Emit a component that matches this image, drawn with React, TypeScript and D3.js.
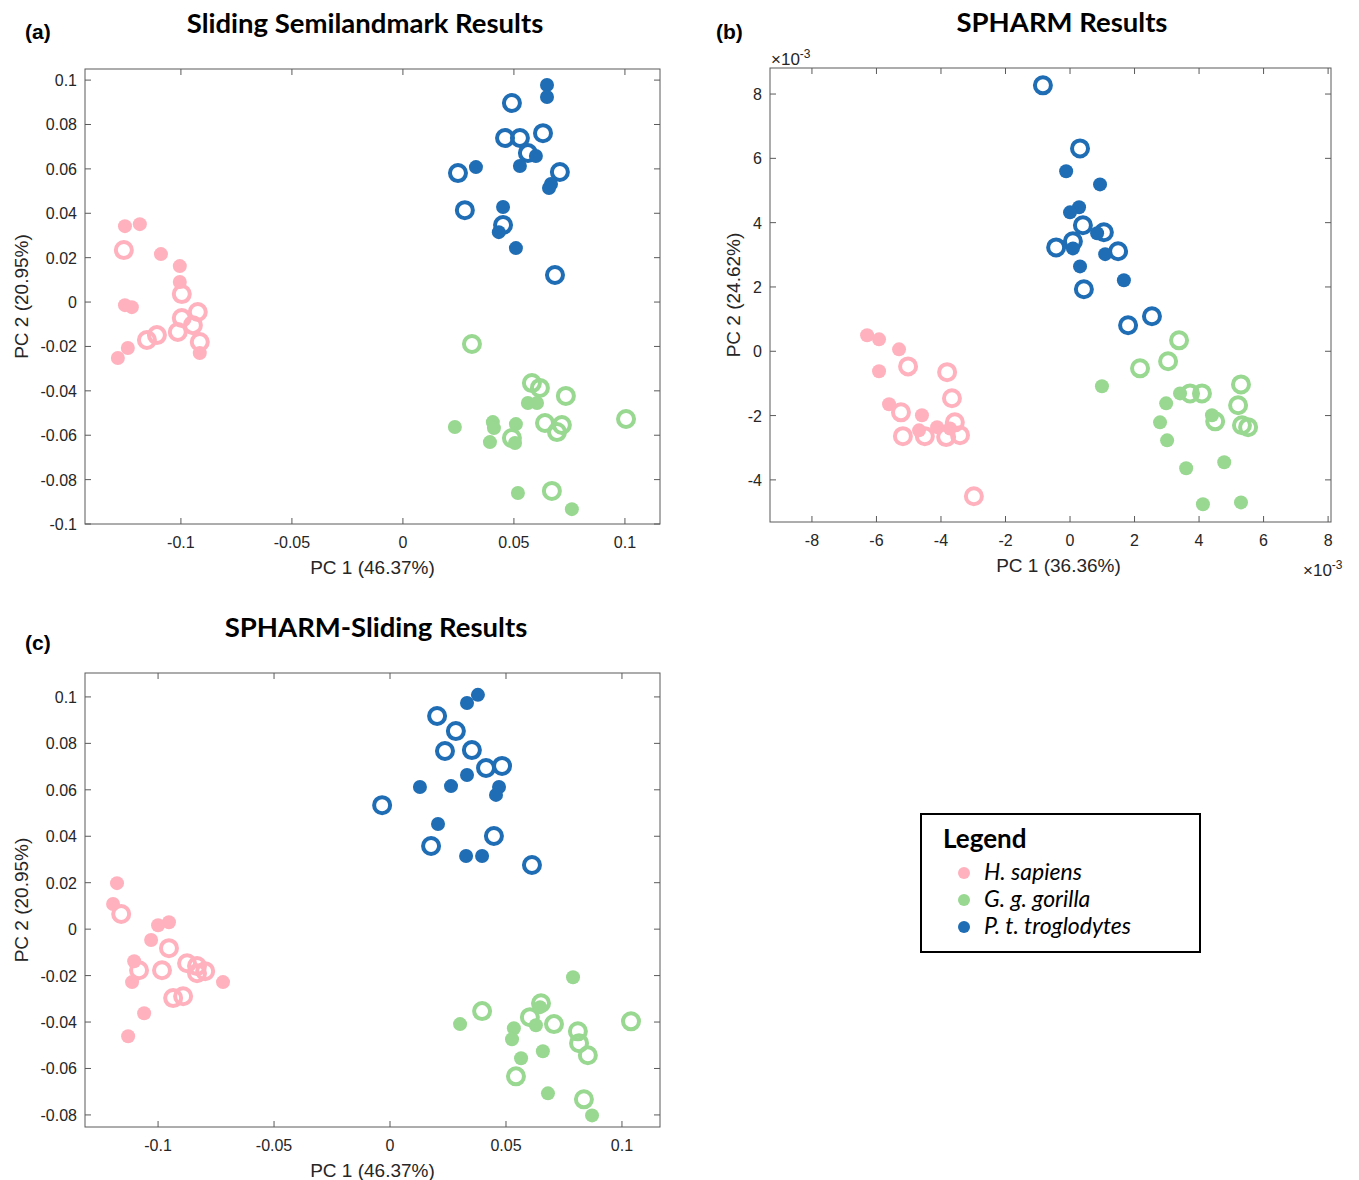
import React from "react";
import * as d3 from "d3";

// colours of the three species
const PINK = "#ffb2be";
const GREEN = "#98d891";
const BLUE = "#1f6db4";

const species = ["H. sapiens", "G. g. gorilla", "P. t. troglodytes"];
const speciesColors = [PINK, GREEN, BLUE];

// (a) Sliding Semilandmark: [PC1, PC2]
const slidingSapiensFilled = [[-0.1252, 0.0342], [-0.1185, 0.0351], [-0.109, 0.0216], [-0.1005, 0.0162], [-0.1005, 0.009], [-0.1252, -0.0014], [-0.1221, -0.0023], [-0.0915, -0.023], [-0.1239, -0.0207], [-0.1284, -0.0252]];
const slidingSapiensOpen = [[-0.1257, 0.0234], [-0.0996, 0.0036], [-0.0924, -0.0045], [-0.0996, -0.0072], [-0.0946, -0.0104], [-0.1014, -0.0135], [-0.1108, -0.0149], [-0.1153, -0.0171], [-0.0915, -0.018]];
const slidingGorillaFilled = [[0.0563, -0.0455], [0.0604, -0.0455], [0.0234, -0.0563], [0.0405, -0.0541], [0.041, -0.0568], [0.0509, -0.055], [0.0505, -0.0635], [0.0392, -0.0631], [0.0518, -0.086], [0.0761, -0.0933]];
const slidingGorillaOpen = [[0.0311, -0.0189], [0.0581, -0.0365], [0.0617, -0.0387], [0.0734, -0.0423], [0.064, -0.0545], [0.0716, -0.0554], [0.0694, -0.0586], [0.0491, -0.0613], [0.1005, -0.0527], [0.0671, -0.0851]];
const slidingTroglodytesFilled = [[0.0649, 0.0978], [0.0649, 0.0924], [0.0599, 0.0658], [0.0527, 0.0613], [0.0329, 0.0608], [0.0667, 0.0532], [0.0658, 0.0514], [0.0451, 0.0428], [0.0432, 0.0315], [0.0509, 0.0243]];
const slidingTroglodytesOpen = [[0.0491, 0.0897], [0.046, 0.0739], [0.0527, 0.0739], [0.0631, 0.0761], [0.0563, 0.0671], [0.0248, 0.0581], [0.0707, 0.0586], [0.0279, 0.0414], [0.0451, 0.0347], [0.0685, 0.0122]];

// (b) SPHARM, units of 1e-3
const spharmSapiensFilled = [[-6.29, 0.5], [-5.92, 0.37], [-5.3, 0.06], [-5.92, -0.62], [-5.61, -1.65], [-4.59, -1.99], [-4.68, -2.46], [-4.12, -2.36], [-3.72, -2.4]];
const spharmSapiensOpen = [[-5.02, -0.47], [-3.81, -0.65], [-3.66, -1.46], [-5.24, -1.9], [-5.18, -2.64], [-4.5, -2.64], [-3.84, -2.67], [-3.57, -2.21], [-3.41, -2.61], [-2.98, -4.51]];
const spharmGorillaFilled = [[0.99, -1.09], [3.41, -1.31], [2.98, -1.62], [4.4, -1.99], [2.79, -2.21], [3.01, -2.77], [4.78, -3.45], [3.6, -3.64], [4.12, -4.76], [5.3, -4.7]];
const spharmGorillaOpen = [[3.38, 0.34], [3.04, -0.31], [2.17, -0.53], [3.72, -1.31], [4.09, -1.31], [5.3, -1.03], [5.21, -1.68], [4.5, -2.18], [5.33, -2.3], [5.52, -2.36]];
const spharmTroglodytesFilled = [[-0.12, 5.6], [0.93, 5.19], [0.28, 4.48], [0.0, 4.32], [0.84, 3.67], [0.09, 3.2], [1.09, 3.02], [0.31, 2.64], [1.67, 2.21]];
const spharmTroglodytesOpen = [[-0.84, 8.27], [0.31, 6.31], [0.4, 3.92], [1.05, 3.7], [0.09, 3.42], [-0.43, 3.23], [1.49, 3.11], [0.43, 1.93], [1.8, 0.81], [2.54, 1.09]];

// (c) SPHARM-Sliding
const mixedSapiensFilled = [[-0.1177, 0.0198], [-0.1194, 0.0108], [-0.1, 0.0017], [-0.0953, 0.003], [-0.103, -0.0047], [-0.1103, -0.0138], [-0.1112, -0.0228], [-0.072, -0.0228], [-0.106, -0.0362], [-0.1129, -0.0461]];
const mixedSapiensOpen = [[-0.1159, 0.0065], [-0.0953, -0.0082], [-0.1082, -0.0177], [-0.0983, -0.0177], [-0.0875, -0.0147], [-0.0832, -0.0159], [-0.0832, -0.019], [-0.0797, -0.0181], [-0.0935, -0.0297], [-0.0892, -0.0289]];
const mixedGorillaFilled = [[0.0789, -0.0207], [0.0302, -0.0409], [0.0647, -0.0336], [0.0629, -0.0414], [0.0534, -0.0427], [0.0526, -0.0474], [0.0659, -0.0526], [0.0565, -0.0556], [0.0681, -0.0707], [0.0871, -0.0802]];
const mixedGorillaOpen = [[0.0397, -0.0353], [0.0651, -0.0319], [0.0603, -0.0379], [0.0707, -0.0409], [0.081, -0.044], [0.0815, -0.0491], [0.0853, -0.0543], [0.1039, -0.0397], [0.0543, -0.0634], [0.0836, -0.0733]];
const mixedTroglodytesFilled = [[0.0379, 0.1009], [0.0332, 0.0974], [0.0332, 0.0664], [0.0129, 0.0612], [0.0263, 0.0616], [0.047, 0.0612], [0.0457, 0.0578], [0.0207, 0.0453], [0.0328, 0.0315], [0.0397, 0.0315]];
const mixedTroglodytesOpen = [[0.0203, 0.0918], [0.0284, 0.0853], [0.0237, 0.0767], [0.0353, 0.0771], [0.0414, 0.0694], [0.0483, 0.0703], [-0.0034, 0.0534], [0.0448, 0.0401], [0.0177, 0.0358], [0.0612, 0.0276]];

// tick values
const pcTicksX = [-0.1, -0.05, 0, 0.05, 0.1];
const slidingTicksY = [-0.1, -0.08, -0.06, -0.04, -0.02, 0, 0.02, 0.04, 0.06, 0.08, 0.1];
const spharmTicksX = [-8, -6, -4, -2, 0, 2, 4, 6, 8];
const spharmTicksY = [-4, -2, 0, 2, 4, 6, 8];
const mixedTicksY = [-0.08, -0.06, -0.04, -0.02, 0, 0.02, 0.04, 0.06, 0.08, 0.1];

const AXIS = "#5a5a5a";
const TEXT = "#262626";
const SANS = "'Liberation Sans', Arial, sans-serif";
const TITLE_FONT = "Lato, 'Open Sans', sans-serif";

const fmt = (v: number) => String(+v.toFixed(4));

function Panel({ box, xDomain, yDomain, xTicks, yTicks, groups, title, titleX, tag, xLabel, yLabel, xLabelShift, yLabelGap, exponent }: any) {
  const x = d3.scaleLinear().domain(xDomain).range([box.left, box.right]);
  const y = d3.scaleLinear().domain(yDomain).range([box.bottom, box.top]);
  const tl = 6;
  const midY = (box.top + box.bottom) / 2;
  const midX = (box.left + box.right) / 2;
  return (
    <g>
      <text x={tag.x} y={tag.y} fontFamily={SANS} fontWeight="bold" fontSize={21} fill="#000">{tag.text}</text>
      <text x={titleX} y={box.top - 36} textAnchor="middle" fontFamily={TITLE_FONT} fontWeight="bold" fontSize={27.5} fill="#000">{title}</text>

      {groups.map((g: any, i: number) => (
        <g key={i}>
          {g.open.map((d: number[], j: number) => (
            <circle key={"o" + j} cx={x(d[0])} cy={y(d[1])} r={8} fill="none" stroke={g.color} strokeWidth={4} />
          ))}
          {g.filled.map((d: number[], j: number) => (
            <circle key={"f" + j} cx={x(d[0])} cy={y(d[1])} r={7} fill={g.color} />
          ))}
        </g>
      ))}

      <rect x={box.left} y={box.top} width={box.right - box.left} height={box.bottom - box.top} fill="none" stroke={AXIS} strokeWidth={1} />
      {xTicks.map((t: number) => (
        <g key={"x" + t}>
          <line x1={x(t)} x2={x(t)} y1={box.bottom} y2={box.bottom - tl} stroke={AXIS} />
          <line x1={x(t)} x2={x(t)} y1={box.top} y2={box.top + tl} stroke={AXIS} />
          <text x={x(t)} y={box.bottom + 24} textAnchor="middle" fontFamily={SANS} fontSize={16} fill={TEXT}>{fmt(t)}</text>
        </g>
      ))}
      {yTicks.map((t: number) => (
        <g key={"y" + t}>
          <line x1={box.left} x2={box.left + tl} y1={y(t)} y2={y(t)} stroke={AXIS} />
          <line x1={box.right} x2={box.right - tl} y1={y(t)} y2={y(t)} stroke={AXIS} />
          <text x={box.left - 8} y={y(t) + 6} textAnchor="end" fontFamily={SANS} fontSize={16} fill={TEXT}>{fmt(t)}</text>
        </g>
      ))}
      <text x={midX + xLabelShift} y={box.bottom + 50} textAnchor="middle" fontFamily={SANS} fontSize={19} fill={TEXT}>{xLabel}</text>
      <text transform={`translate(${box.left - yLabelGap},${midY}) rotate(-90)`} textAnchor="middle" fontFamily={SANS} fontSize={19} fill={TEXT}>{yLabel}</text>
      {exponent && (
        <g fontFamily={SANS} fill={TEXT}>
          <text x={box.left + 1} y={box.top - 3} fontSize={17}>×10<tspan fontSize={12} dy={-7}>-3</tspan></text>
          <text x={box.right - 28} y={box.bottom + 54} fontSize={17}>×10<tspan fontSize={12} dy={-7}>-3</tspan></text>
        </g>
      )}
    </g>
  );
}

export default function App() {
  return (
    <svg width={1359} height={1180} style={{ position: "absolute", left: 0, top: 0, background: "#fff" }}>
      <Panel
        box={{ left: 85, right: 660, top: 69, bottom: 524 }}
        xDomain={[-0.1432, 0.1158]}
        yDomain={[-0.1, 0.105]}
        xTicks={pcTicksX}
        yTicks={slidingTicksY}
        groups={[
          { color: speciesColors[0], filled: slidingSapiensFilled, open: slidingSapiensOpen },
          { color: speciesColors[1], filled: slidingGorillaFilled, open: slidingGorillaOpen },
          { color: speciesColors[2], filled: slidingTroglodytesFilled, open: slidingTroglodytesOpen },
        ]}
        title="Sliding Semilandmark Results"
        titleX={365}
        tag={{ text: "(a)", x: 25, y: 39 }}
        xLabel="PC 1 (46.37%)"
        yLabel="PC 2 (20.95%)"
        xLabelShift={0}
        yLabelGap={57}
      />
      <Panel
        box={{ left: 770, right: 1331, top: 68, bottom: 522 }}
        xDomain={[-9.3, 8.09]}
        yDomain={[-5.31, 8.81]}
        xTicks={spharmTicksX}
        yTicks={spharmTicksY}
        groups={[
          { color: speciesColors[0], filled: spharmSapiensFilled, open: spharmSapiensOpen },
          { color: speciesColors[1], filled: spharmGorillaFilled, open: spharmGorillaOpen },
          { color: speciesColors[2], filled: spharmTroglodytesFilled, open: spharmTroglodytesOpen },
        ]}
        title="SPHARM Results"
        titleX={1062}
        tag={{ text: "(b)", x: 716, y: 39 }}
        xLabel="PC 1 (36.36%)"
        yLabel="PC 2 (24.62%)"
        xLabelShift={8}
        yLabelGap={30}
        exponent
      />
      <Panel
        box={{ left: 85, right: 660, top: 673, bottom: 1127 }}
        xDomain={[-0.1315, 0.1164]}
        yDomain={[-0.0852, 0.1103]}
        xTicks={pcTicksX}
        yTicks={mixedTicksY}
        groups={[
          { color: speciesColors[0], filled: mixedSapiensFilled, open: mixedSapiensOpen },
          { color: speciesColors[1], filled: mixedGorillaFilled, open: mixedGorillaOpen },
          { color: speciesColors[2], filled: mixedTroglodytesFilled, open: mixedTroglodytesOpen },
        ]}
        title="SPHARM-Sliding Results"
        titleX={376}
        tag={{ text: "(c)", x: 25, y: 650 }}
        xLabel="PC 1 (46.37%)"
        yLabel="PC 2 (20.95%)"
        xLabelShift={0}
        yLabelGap={57}
      />

      <g>
        <rect x={921} y={814} width={279} height={138} fill="#fff" stroke="#000" strokeWidth={2} />
        <text x={943} y={848} fontFamily={TITLE_FONT} fontWeight="bold" fontSize={26} fill="#000">Legend</text>
        {species.map((s, i) => (
          <g key={s}>
            <circle cx={964} cy={873 + i * 27} r={6} fill={speciesColors[i]} />
            <text x={984} y={880 + i * 27} fontFamily={TITLE_FONT} fontStyle="italic" fontSize={23} fill="#000">{s}</text>
          </g>
        ))}
      </g>
    </svg>
  );
}
